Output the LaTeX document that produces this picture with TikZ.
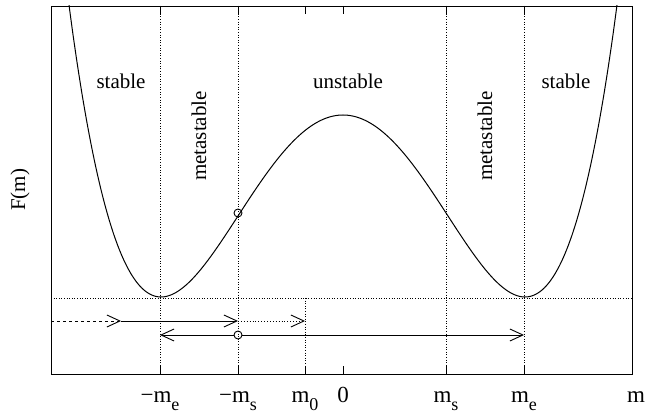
\documentclass[tikz,border=0pt]{standalone}
\usepackage{fontspec}
\setmainfont{Liberation Serif}
\usetikzlibrary{arrows.meta}
\newcommand{\ticksub}[1]{\raisebox{-8pt}{\fontsize{18}{20}\selectfont #1}}
\tikzset{
  gridline/.style={dotted, line width=0.6pt},
  openhead/.style={-{Straight Barb[length=13pt,width=12pt]}},
  marker/.style={circle, draw, line width=0.9pt, minimum size=8pt, inner sep=0pt},
  ticklabel/.style={anchor=base, font=\fontsize{23}{26}\selectfont},
}
\begin{document}
\begin{tikzpicture}[x=1pt, y=-1pt, line width=0.9pt,
    every node/.style={font=\fontsize{21}{24}\selectfont, inner sep=0pt}]
    \path[use as bounding box] (0,0) rectangle (657,414);
    \coordinate (BL) at (51,374);
    \coordinate (TR) at (632,6);

    % grid lines
    \foreach \gx in {160,238,446,524}
        \draw[gridline] (\gx,6) -- (\gx,374);
    \draw[gridline] (305,298) -- (305,374);
    \draw[gridline] (51,298) -- (632,298);

    % ticks
    \foreach \gx in {160,238,305,343,446,524} {
        \draw (\gx,374) -- (\gx,366);
        \draw (\gx,6) -- (\gx,14);
    }

    % free energy
    \begin{scope}
    \clip (BL) rectangle (TR);
    \draw[line width=1pt, smooth, samples=121, domain=-1.51:1.51]
        plot ({343+182*\x}, {115-182*(\x*\x*\x*\x-2*\x*\x)});
    \end{scope}
    \draw (BL) rectangle (TR);

    \node[marker] (C) at (238,213) {};
    \node[marker] (O) at (238,335) {};

    % quench path
    \coordinate (P0) at (51,321);
    \coordinate (P1) at (121,321);
    \coordinate (P2) at (238,321);
    \coordinate (P3) at (305,321);
    \draw[dashed, openhead] (P0) -- (P1);
    \draw[openhead] (P1) -- (P2);
    \draw[dotted, openhead] (P2) -- (P3);
    \coordinate (L) at (160,335);
    \coordinate (R) at (524,335);
    \draw[openhead] (O) -- (L);
    \draw[openhead] (O) -- (R);

    % regions
    \node (stL) at (121,81.5) {stable};
    \node (un) at (348,81.5) {unstable};
    \node (stR) at (566,81.5) {stable};
    \node[rotate=90] (mtL) at (199,136) {metastable};
    \node[rotate=90] (mtR) at (485,136) {metastable};
    \node[rotate=90] (F) at (20,190) {F(m)};

    % tick labels
    \node[ticklabel] (tA) at (160,403) {−m\ticksub{e}};
    \node[ticklabel] (tB) at (238,403) {−m\ticksub{s}};
    \node[ticklabel] (tC) at (305,403) {m\ticksub{0}};
    \node[ticklabel] (tD) at (343,403) {0};
    \node[ticklabel] (tE) at (446,403) {m\ticksub{s}};
    \node[ticklabel] (tF) at (524,403) {m\ticksub{e}};
    \node[ticklabel] (tG) at (636,403) {m};
\end{tikzpicture}
\end{document}
